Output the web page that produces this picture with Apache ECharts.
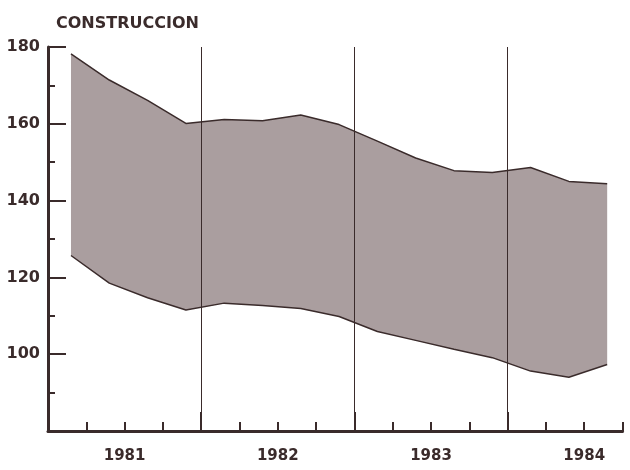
<!DOCTYPE html>
<html><head><meta charset="utf-8">
<script src="https://cdn.jsdelivr.net/npm/echarts@6/dist/echarts.min.js"></script>
<style>html,body{margin:0;padding:0;background:#fff}#c{width:630px;height:470px}</style>
</head><body><div id="c"></div>
<script>
// ---- data ----
const chartTitle = 'CONSTRUCCION';
const years = ['1981', '1982', '1983', '1984'];
const quarters = ['1981-I','1981-II','1981-III','1981-IV',
                  '1982-I','1982-II','1982-III','1982-IV',
                  '1983-I','1983-II','1983-III','1983-IV',
                  '1984-I','1984-II','1984-III'];
const upper = [178.2, 171.4, 166.1, 160.1, 161.1, 160.8, 162.3, 159.8, 155.5, 151.1, 147.8, 147.3, 148.6, 145.0, 144.4];
const lower = [125.7, 118.5, 114.7, 111.5, 113.3, 112.7, 111.9, 109.8, 105.9, 103.6, 101.3, 99.1, 95.6, 94.0, 97.3];
const yTickLabels = [100, 120, 140, 160, 180];

// ---- styling ----
const ink = '#3a2b2b';
const fill = '#aa9e9f';
const font = 'DejaVu Sans';
const qPos = 0.6; // position of a quarter's value inside its quarter

const boundaryCats = Array.from({length: quarters.length + 1}, (_, i) => String(i));
const lastQ = quarters.length;
const upperPts = upper.map((v, i) => [i + qPos, v]);
const lowerPts = lower.map((v, i) => [i + qPos, v]);

const chart = echarts.init(document.getElementById('c'), null, {renderer: 'canvas'});
chart.setOption({
  animation: false,
  backgroundColor: '#fff',
  title: {
    text: chartTitle, left: 51, top: 11,
    textStyle: {fontFamily: font, fontWeight: 'bold', fontSize: 16, color: ink}
  },
  grid: {left: 48, right: 7.5, top: 47, bottom: 39},
  xAxis: [
    {
      type: 'value', min: 0, max: lastQ, interval: 1,
      axisLine: {show: true, onZero: false, lineStyle: {color: ink, width: 3}},
      axisTick: {show: true, inside: true, length: 9, lineStyle: {color: ink, width: 2}},
      axisLabel: {show: false},
      splitLine: {show: false}
    },
    {
      type: 'category', boundaryGap: false, position: 'bottom', z: 5,
      data: boundaryCats,
      axisLine: {show: false},
      axisTick: {show: true, inside: true, length: 19, interval: (i) => i % 4 === 0,
                 lineStyle: {color: ink, width: 2}},
      splitLine: {show: true, interval: (i) => i % 4 === 0 && i > 0,
                  lineStyle: {color: ink, width: 1}},
      axisLabel: {
        show: true, margin: 18, interval: (i) => i % 4 === 2,
        formatter: (v) => years[Math.floor(Number(v) / 4)] || '',
        fontFamily: font, fontWeight: 'bold', fontSize: 15, color: ink
      }
    }
  ],
  yAxis: {
    type: 'value', min: 80, max: 180, interval: 20,
    axisLine: {show: true, lineStyle: {color: ink, width: 3}},
    axisTick: {show: true, inside: true, length: 18, lineStyle: {color: ink, width: 2}},
    minorTick: {show: true, splitNumber: 2, length: 7, lineStyle: {color: ink, width: 2}},
    splitLine: {show: false},
    axisLabel: {
      margin: 8,
      formatter: (v) => yTickLabels.includes(v) ? String(v) : '',
      fontFamily: font, fontWeight: 'bold', fontSize: 16, color: ink
    }
  },
  series: [
    {
      type: 'custom', xAxisIndex: 0, z: 1, silent: true,
      data: [[upperPts[0][0], upperPts[0][1]]],
      renderItem: (params, api) => {
        const pts = upperPts.map(p => api.coord(p))
          .concat(lowerPts.slice().reverse().map(p => api.coord(p)));
        return {type: 'polygon', shape: {points: pts}, style: {fill: fill, stroke: null}};
      }
    },
    {
      type: 'line', xAxisIndex: 0, symbol: 'none', z: 3,
      data: upperPts, lineStyle: {color: ink, width: 1.5}
    },
    {
      type: 'line', xAxisIndex: 0, symbol: 'none', z: 3,
      data: lowerPts, lineStyle: {color: ink, width: 1.5}
    }
  ]
});
</script></body></html>
